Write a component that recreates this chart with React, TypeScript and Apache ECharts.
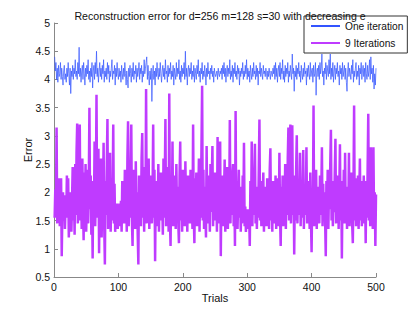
import React, { useEffect, useRef } from "react";
import * as echarts from "echarts";

const titleText = "Reconstruction error for d=256 m=128 s=30 with decreasing e";
const seriesNames = ["One iteration", "9 Iterations"];
const xTicks = [0, 100, 200, 300, 400, 500];

// One iteration (trials 1..500)
const oneIteration = [
  4.4, 4.15, 4.3, 4.0, 4.2, 3.95, 4.25, 4.05, 4.1, 4.3,
  4.0, 4.2, 4.05, 3.9, 4.15, 4.25, 4.0, 4.1, 3.95, 4.2,
  4.05, 4.3, 4.1, 3.9, 4.2, 3.75, 4.15, 4.05, 4.25, 4.0,
  4.2, 4.1, 4.35, 4.05, 4.15, 4.0, 4.3, 4.1, 4.57, 4.05,
  4.2, 3.95, 4.15, 4.25, 4.0, 4.3, 4.1, 3.9, 4.2, 4.05,
  4.25, 4.1, 4.35, 4.0, 4.15, 3.95, 4.2, 4.05, 4.3, 3.85,
  4.15, 4.25, 4.0, 4.3, 4.1, 4.5, 4.05, 4.2, 3.95, 4.15,
  4.3, 4.05, 4.2, 4.0, 4.25, 4.1, 4.35, 3.95, 4.15, 4.05,
  4.2, 4.0, 4.3, 4.1, 4.25, 3.95, 4.15, 4.05, 4.2, 4.35,
  4.0, 4.15, 4.1, 4.25, 3.9, 4.2, 4.05, 4.3, 4.1, 4.0,
  4.2, 4.05, 4.15, 3.95, 4.25, 4.1, 4.0, 4.2, 4.05, 4.3,
  4.1, 3.9, 4.15, 4.0, 3.85, 4.2, 4.05, 4.25, 4.1, 3.95,
  4.2, 4.05, 4.3, 4.0, 4.15, 4.1, 4.25, 3.95, 4.2, 4.05,
  4.15, 4.3, 4.0, 4.2, 4.1, 4.25, 3.95, 4.15, 4.05, 4.35,
  4.1, 4.2, 4.3, 4.4, 4.0, 4.25, 4.05, 3.9, 4.15, 4.0,
  4.2, 3.61, 4.1, 4.25, 4.0, 4.15, 3.9, 4.2, 4.05, 4.3,
  4.1, 4.0, 4.2, 4.05, 4.3, 4.1, 3.95, 4.15, 4.25, 4.05,
  4.2, 4.0, 4.35, 4.1, 4.15, 3.95, 4.25, 4.05, 4.2, 4.1,
  4.3, 4.0, 4.15, 4.05, 4.25, 3.9, 4.2, 4.1, 4.0, 4.3,
  4.05, 4.2, 4.1, 4.35, 4.0, 4.15, 3.95, 4.25, 4.05, 4.2,
  4.1, 4.3, 4.0, 4.5, 4.05, 4.2, 3.9, 4.15, 4.25, 4.05,
  4.2, 4.1, 4.3, 4.0, 4.15, 4.05, 4.25, 3.95, 4.2, 4.1,
  4.0, 4.25, 4.1, 4.35, 4.05, 4.15, 3.95, 4.2, 4.1, 4.3,
  4.0, 4.15, 4.05, 4.25, 4.1, 3.9, 4.2, 4.05, 4.3, 4.1,
  4.15, 4.0, 4.2, 4.1, 4.25, 4.05, 4.15, 3.95, 4.2, 4.1,
  4.05, 4.1, 4.15, 4.0, 4.2, 4.1, 4.05, 4.15, 4.1, 4.2,
  4.0, 4.25, 4.1, 4.3, 4.05, 4.2, 3.95, 4.15, 4.25, 4.05,
  4.2, 4.1, 4.35, 4.0, 4.15, 4.05, 4.25, 3.95, 4.2, 4.1,
  4.3, 4.05, 4.15, 4.0, 4.25, 4.1, 4.2, 3.9, 4.15, 4.05,
  4.2, 4.1, 4.3, 4.0, 4.15, 4.05, 4.25, 4.1, 4.35, 4.0,
  4.2, 4.05, 4.15, 3.95, 4.25, 4.1, 4.0, 4.2, 4.05, 4.3,
  4.1, 4.15, 4.0, 4.25, 4.05, 4.2, 3.9, 4.15, 4.1, 4.3,
  4.05, 4.2, 4.1, 4.0, 4.25, 4.1, 4.15, 4.05, 4.2, 4.1,
  4.0, 4.15, 4.05, 4.2, 4.1, 4.0, 4.15, 4.1, 4.05, 4.2,
  4.1, 4.25, 4.0, 4.3, 4.05, 4.2, 3.95, 4.15, 4.25, 4.05,
  4.3, 4.0, 4.2, 4.1, 4.35, 4.0, 4.15, 3.95, 4.25, 4.05,
  4.2, 4.1, 4.3, 3.95, 4.15, 4.05, 4.25, 4.1, 4.0, 4.45,
  4.1, 4.2, 3.79, 4.15, 4.05, 4.25, 4.0, 4.2, 4.1, 4.3,
  4.05, 4.15, 3.95, 4.25, 4.1, 4.0, 4.2, 4.05, 4.3, 4.1,
  4.15, 3.9, 4.2, 4.05, 4.25, 4.1, 4.0, 4.3, 4.05, 4.15,
  4.2, 3.95, 4.25, 4.05, 4.1, 4.3, 3.72, 4.15, 4.2, 4.05,
  4.25, 4.0, 4.3, 4.1, 4.2, 4.45, 4.05, 4.15, 3.9, 4.2,
  4.1, 4.3, 4.0, 4.25, 4.15, 4.05, 4.35, 4.1, 4.45, 4.0,
  4.2, 4.05, 4.3, 3.95, 4.15, 4.25, 4.0, 4.2, 4.1, 4.3,
  4.05, 4.15, 3.9, 4.25, 4.1, 4.2, 4.0, 4.3, 4.05, 4.15,
  4.25, 4.0, 4.2, 3.95, 3.79, 4.15, 4.3, 4.05, 4.2, 4.1,
  4.0, 4.25, 4.1, 4.35, 3.95, 4.15, 4.05, 4.2, 4.3, 4.0,
  4.15, 4.05, 4.25, 3.9, 4.2, 4.1, 4.3, 4.0, 4.15, 4.25,
  4.05, 4.2, 3.95, 4.3, 4.1, 4.0, 4.25, 4.05, 4.15, 4.35,
  4.0, 4.4, 4.1, 4.2, 3.95, 4.25, 3.83, 4.1, 3.9, 4.2,
];

// 9 Iterations (trials 1..500)
const nineIterations = [
  1.55, 2.05, 1.6, 3.15, 1.45, 2.0, 1.7, 2.25, 1.4, 1.9,
  2.25, 0.87, 1.65, 2.0, 1.5, 1.95, 1.35, 1.8, 1.55, 2.3,
  1.6, 2.25, 1.2, 1.7, 1.45, 2.0, 1.3, 1.85, 2.45, 1.5,
  1.95, 1.25, 2.5, 1.6, 2.7, 3.22, 1.45, 2.2, 1.7, 3.2,
  1.5, 2.1, 1.35, 2.6, 1.8, 1.15, 2.35, 1.6, 2.5, 1.3,
  1.9, 2.4, 1.45, 2.1, 3.5, 1.7, 2.3, 1.25, 1.95, 0.83,
  2.2, 1.6, 2.9, 1.4, 2.05, 3.73, 1.55, 2.4, 2.77, 0.92,
  2.3, 1.5, 2.6, 1.2, 2.1, 1.75, 2.88, 1.4, 0.72, 2.2,
  1.6, 2.5, 3.3, 1.35, 2.0, 1.6, 2.7, 1.3, 2.25, 1.5,
  1.9, 3.2, 1.45, 2.15, 1.3, 1.75, 1.5, 1.8, 1.35, 1.65,
  1.4, 1.8, 1.55, 1.85, 1.3, 2.2, 1.5, 1.9, 1.45, 2.4,
  1.6, 2.0, 1.3, 2.6, 3.26, 1.4, 2.1, 1.55, 2.3, 3.2,
  1.5, 1.05, 2.4, 1.7, 2.2, 1.35, 2.55, 1.6, 2.0, 1.25,
  0.72, 2.3, 1.5, 2.1, 1.4, 2.6, 3.05, 1.55, 2.2, 1.3,
  2.45, 1.6, 3.83, 1.45, 2.2, 1.7, 2.6, 1.35, 2.1, 1.5,
  2.3, 1.45, 1.9, 3.2, 1.55, 2.4, 0.78, 2.0, 1.4, 2.2,
  1.6, 2.5, 1.3, 2.05, 1.75, 2.35, 1.5, 1.9, 1.25, 2.6,
  1.55, 2.2, 3.3, 1.4, 2.1, 1.65, 2.45, 1.3, 3.75, 1.5,
  1.05, 2.2, 1.6, 2.9, 1.4, 2.3, 1.7, 2.0, 1.35, 2.5,
  1.55, 2.1, 1.45, 1.1, 2.3, 2.9, 1.5, 2.0, 1.3, 2.4,
  1.6, 2.15, 1.4, 2.55, 1.7, 1.95, 1.3, 2.3, 1.5, 2.1,
  1.45, 2.4, 1.65, 2.0, 1.35, 3.2, 1.6, 1.1, 2.25, 1.5,
  2.35, 1.4, 2.05, 1.75, 2.6, 1.3, 2.2, 1.55, 2.8, 3.89,
  1.5, 2.4, 1.35, 2.1, 1.7, 1.2, 2.82, 1.6, 2.3, 1.45,
  2.0, 1.3, 2.5, 1.65, 2.2, 2.82, 1.4, 2.1, 1.55, 2.35,
  1.5, 2.0, 1.3, 2.98, 1.6, 2.25, 1.45, 2.9, 0.87, 2.1,
  1.55, 2.3, 1.4, 1.95, 2.58, 1.3, 2.2, 1.6, 2.45, 1.35,
  2.05, 1.7, 3.28, 1.45, 2.15, 1.6, 2.3, 2.5, 1.4, 2.0,
  1.05, 3.44, 1.5, 2.2, 1.35, 1.9, 2.4, 1.55, 2.1, 1.3,
  1.8, 1.45, 2.3, 1.6, 2.88, 1.4, 1.75, 1.3, 1.65, 1.5,
  1.7, 1.35, 1.6, 1.05, 2.2, 1.5, 2.9, 1.4, 2.05, 1.6,
  2.3, 2.86, 1.45, 2.1, 1.35, 1.95, 1.55, 2.4, 3.29, 1.5,
  2.2, 1.4, 1.9, 1.65, 2.35, 1.3, 2.1, 1.55, 1.85, 1.4,
  2.25, 1.6, 1.95, 1.35, 2.4, 2.78, 1.5, 2.05, 1.3, 2.2,
  1.6, 1.9, 1.45, 2.3, 1.35, 2.0, 1.55, 2.25, 1.4, 2.7,
  1.6, 1.05, 2.1, 1.5, 2.3, 1.4, 2.0, 1.65, 2.5, 1.35,
  2.2, 1.6, 2.6, 3.15, 1.5, 2.4, 3.2, 1.45, 2.1, 3.19,
  1.6, 2.3, 0.9, 2.05, 1.5, 2.4, 3.01, 1.45, 2.2, 1.6,
  1.9, 2.7, 1.4, 2.15, 1.55, 2.0, 2.75, 1.35, 2.1, 1.6,
  1.8, 2.8, 1.45, 2.2, 1.6, 1.9, 1.35, 2.35, 1.5, 0.94,
  2.0, 1.6, 3.54, 1.4, 2.2, 1.55, 2.4, 1.35, 1.95, 1.6,
  2.1, 1.45, 2.3, 1.6, 1.95, 2.8, 1.4, 2.15, 1.55, 2.0,
  1.5, 0.87, 2.2, 1.6, 2.4, 1.35, 2.05, 1.7, 2.5, 3.11,
  1.5, 2.2, 1.4, 2.0, 1.65, 2.35, 2.95, 1.45, 2.1, 1.6,
  2.3, 1.35, 2.0, 2.85, 1.5, 2.2, 0.83, 2.05, 1.6, 2.4,
  1.45, 2.7, 1.55, 2.1, 1.35, 2.0, 1.6, 2.7, 1.4, 2.2,
  1.55, 2.35, 1.45, 1.1, 2.0, 3.54, 1.5, 2.25, 1.4, 2.1,
  1.6, 2.3, 1.35, 1.95, 2.6, 1.5, 2.2, 1.4, 2.05, 1.65,
  2.3, 1.45, 2.0, 1.1, 2.2, 1.55, 2.4, 3.39, 1.5, 2.1,
  1.4, 2.8, 1.6, 2.2, 1.35, 2.8, 1.5, 2.0, 1.05, 1.96,
];

const FONT = "'Liberation Sans', Arial, Helvetica, sans-serif";

export default function App() {
  const ref = useRef<HTMLDivElement>(null);
  useEffect(() => {
    if (!ref.current) return;
    const chart = echarts.init(ref.current, undefined, { renderer: "svg" });
    const toPairs = (arr: number[]) => arr.map((v, i) => [i + 1, v]);
    chart.setOption({
      animation: false,
      backgroundColor: "#ffffff",
      title: {
        text: titleText,
        left: 215,
        top: 5,
        textAlign: "center",
        textStyle: { fontFamily: FONT, fontSize: 10.6, fontWeight: "normal", color: "#111" },
      },
      legend: {
        orient: "vertical",
        left: 304,
        top: 16,
        padding: [5, 4, 5, 6],
        itemWidth: 29,
        itemHeight: 10,
        itemGap: 7,
        backgroundColor: "#ffffff",
        borderColor: "#333",
        borderWidth: 1,
        borderRadius: 0,
        itemStyle: { opacity: 0 },
        textStyle: { fontFamily: FONT, fontSize: 10.2, color: "#111" },
        data: seriesNames,
      },
      grid: { left: 54, right: 39, top: 23, bottom: 36, containLabel: false, outerBoundsMode: "none" },
      xAxis: {
        type: "value",
        min: 0,
        max: 500,
        interval: 100,
        name: "Trials",
        nameLocation: "middle",
        nameGap: 15,
        nameMoveOverlap: false,
        nameTextStyle: { fontFamily: FONT, fontSize: 11, color: "#111" },
        axisLine: { show: true, lineStyle: { color: "#888", width: 1 } },
        axisTick: { show: true, inside: true, length: 4, lineStyle: { color: "#888" } },
        axisLabel: { fontFamily: FONT, fontSize: 10.5, color: "#111", margin: 4, formatter: (v: number) => String(v) },
        splitLine: { show: false },
      },
      yAxis: {
        type: "value",
        min: 0.5,
        max: 5,
        interval: 0.5,
        name: "Error",
        nameLocation: "middle",
        nameGap: 21,
        nameMoveOverlap: false,
        nameTextStyle: { fontFamily: FONT, fontSize: 11, color: "#111" },
        axisLine: { show: true, lineStyle: { color: "#888", width: 1 } },
        axisTick: { show: true, inside: true, length: 4, lineStyle: { color: "#888" } },
        axisLabel: { fontFamily: FONT, fontSize: 10.5, color: "#111", margin: 4 },
        splitLine: { show: false },
      },
      series: [
        {
          name: seriesNames[0],
          type: "line",
          data: toPairs(oneIteration),
          symbol: "none",
          lineStyle: { color: "#3354ff", width: 0.7 },
          itemStyle: { color: "#3354ff" },
        },
        {
          name: seriesNames[1],
          type: "line",
          data: toPairs(nineIterations),
          symbol: "none",
          lineStyle: { color: "#bf3bff", width: 2.5 },
          itemStyle: { color: "#bf3bff" },
        },
      ],
    });
    return () => chart.dispose();
  }, []);
  return (
    <div
      ref={ref}
      style={{ position: "fixed", left: 0, top: 0, width: 415, height: 313 }}
    />
  );
}
